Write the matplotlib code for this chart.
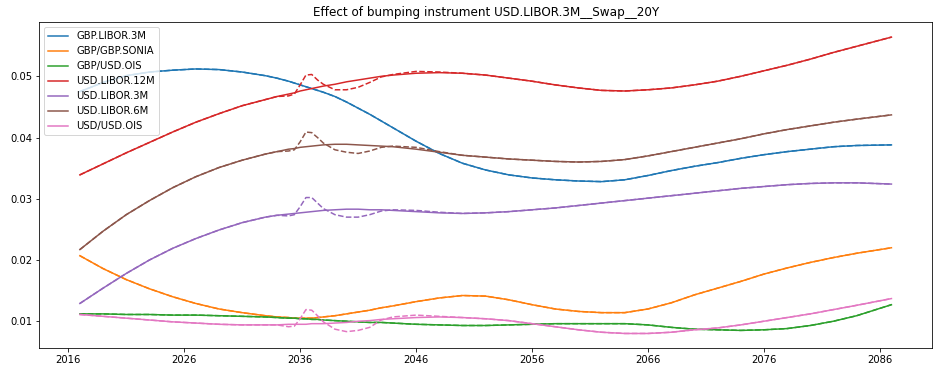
import matplotlib
matplotlib.use("Agg")
import matplotlib.pyplot as plt
import numpy as np

years = [2017, 2019, 2021, 2023, 2025, 2027, 2029, 2031, 2033, 2034, 2035, 2035.5,
         2036, 2036.5, 2037, 2037.5, 2038, 2039, 2040, 2041, 2042, 2043, 2044, 2046,
         2048, 2050, 2052, 2054, 2056, 2058, 2060, 2062, 2064, 2066, 2068, 2070, 2072,
         2074, 2076, 2078, 2080, 2082, 2084, 2087]

gbp_libor_3m = [0.0475, 0.0490, 0.0501, 0.0507, 0.0510, 0.0512, 0.0511, 0.0507, 0.0501, 0.0497,
                0.0492, 0.0489, 0.0486, 0.0483, 0.0480, 0.0477, 0.0474, 0.0467, 0.0458, 0.0448,
                0.0438, 0.0427, 0.0416, 0.0394, 0.0374, 0.0358, 0.0347, 0.0339, 0.0334, 0.0331,
                0.0329, 0.0328, 0.0331, 0.0338, 0.0346, 0.0353, 0.0359, 0.0366, 0.0372, 0.0377,
                0.0381, 0.0385, 0.0387, 0.0388]
gbp_sonia = [0.0207, 0.0186, 0.0168, 0.0153, 0.0140, 0.0129, 0.0120, 0.0114, 0.0109, 0.0107,
             0.0106, 0.0105, 0.0105, 0.0105, 0.0105, 0.0106, 0.0107, 0.0109, 0.0112, 0.0115,
             0.0118, 0.0122, 0.0125, 0.0132, 0.0138, 0.0142, 0.0141, 0.0135, 0.0127, 0.0120,
             0.0116, 0.0114, 0.0114, 0.0120, 0.0130, 0.0143, 0.0154, 0.0165, 0.0177, 0.0187,
             0.0196, 0.0204, 0.0211, 0.0220]
gbp_usd_ois = [0.0112, 0.0112, 0.0111, 0.0111, 0.0110, 0.0110, 0.0109, 0.0108, 0.0107, 0.0106,
               0.0105, 0.0105, 0.0104, 0.0104, 0.0103, 0.0103, 0.0102, 0.0101, 0.0100, 0.0099,
               0.0098, 0.0098, 0.0097, 0.0095, 0.0094, 0.0093, 0.0093, 0.0094, 0.0095, 0.0096,
               0.0096, 0.0096, 0.0096, 0.0094, 0.0090, 0.0087, 0.0086, 0.0085, 0.0086, 0.0088,
               0.0093, 0.0100, 0.0109, 0.0127]
usd_libor_12m = [0.0339, 0.0357, 0.0375, 0.0392, 0.0409, 0.0425, 0.0439, 0.0452, 0.0462, 0.0467,
                 0.0471, 0.0473, 0.0476, 0.0478, 0.0480, 0.0482, 0.0484, 0.0487, 0.0491, 0.0494,
                 0.0497, 0.0500, 0.0502, 0.0505, 0.0506, 0.0505, 0.0502, 0.0497, 0.0492, 0.0486,
                 0.0481, 0.0477, 0.0476, 0.0478, 0.0481, 0.0486, 0.0492, 0.0500, 0.0509, 0.0518,
                 0.0528, 0.0539, 0.0549, 0.0564]
usd_libor_3m = [0.0129, 0.0154, 0.0178, 0.0200, 0.0219, 0.0235, 0.0249, 0.0261, 0.0270, 0.0273,
                0.0275, 0.0276, 0.0277, 0.0278, 0.0279, 0.0280, 0.0281, 0.0282, 0.0283, 0.0283,
                0.0282, 0.0282, 0.0281, 0.0279, 0.0277, 0.0276, 0.0277, 0.0279, 0.0282, 0.0285,
                0.0289, 0.0293, 0.0297, 0.0301, 0.0305, 0.0309, 0.0313, 0.0317, 0.0320, 0.0323,
                0.0325, 0.0326, 0.0326, 0.0324]
usd_libor_6m = [0.0217, 0.0247, 0.0274, 0.0297, 0.0318, 0.0336, 0.0351, 0.0363, 0.0373, 0.0377,
                0.0381, 0.0382, 0.0384, 0.0385, 0.0386, 0.0387, 0.0388, 0.0389, 0.0389, 0.0388,
                0.0387, 0.0386, 0.0385, 0.0381, 0.0376, 0.0371, 0.0368, 0.0365, 0.0363, 0.0361,
                0.0360, 0.0361, 0.0364, 0.0370, 0.0377, 0.0384, 0.0391, 0.0398, 0.0406, 0.0413,
                0.0419, 0.0425, 0.0430, 0.0437]
usd_ois = [0.0111, 0.0108, 0.0105, 0.0102, 0.0099, 0.0097, 0.0095, 0.0094, 0.0094, 0.0094,
           0.0095, 0.0095, 0.0095, 0.0095, 0.0096, 0.0096, 0.0096, 0.0097, 0.0098, 0.0100,
           0.0101, 0.0103, 0.0104, 0.0106, 0.0107, 0.0106, 0.0104, 0.0101, 0.0096, 0.0091,
           0.0086, 0.0082, 0.0080, 0.0080, 0.0082, 0.0086, 0.0089, 0.0094, 0.0100, 0.0106,
           0.0112, 0.0119, 0.0126, 0.0137]

# Bumped curves inside the bump window (elsewhere identical to the base curves)
bump_years = [2034, 2035, 2035.5, 2036, 2036.5, 2037, 2037.5, 2038, 2039, 2040,
              2041, 2042, 2043, 2044, 2046, 2048]
bumped_usd_libor_12m = [0.0467, 0.0468, 0.0471, 0.0486, 0.0502, 0.0503, 0.0494, 0.0487, 0.0478,
                        0.0478, 0.0482, 0.0490, 0.0499, 0.0503, 0.0508, 0.0507]
bumped_usd_libor_3m = [0.0273, 0.0272, 0.0274, 0.0287, 0.0302, 0.0302, 0.0293, 0.0284, 0.0274,
                       0.0270, 0.0270, 0.0274, 0.0280, 0.0282, 0.0281, 0.0278]
bumped_usd_libor_6m = [0.0377, 0.0378, 0.0380, 0.0393, 0.0409, 0.0408, 0.0400, 0.0391, 0.0380,
                       0.0376, 0.0374, 0.0378, 0.0384, 0.0386, 0.0384, 0.0377]
bumped_usd_ois = [0.0094, 0.0091, 0.0092, 0.0104, 0.0119, 0.0118, 0.0109, 0.0099, 0.0087,
                  0.0083, 0.0085, 0.0090, 0.0102, 0.0107, 0.0110, 0.0108]

names = ["GBP.LIBOR.3M", "GBP/GBP.SONIA", "GBP/USD.OIS", "USD.LIBOR.12M",
         "USD.LIBOR.3M", "USD.LIBOR.6M", "USD/USD.OIS"]
base = [gbp_libor_3m, gbp_sonia, gbp_usd_ois, usd_libor_12m, usd_libor_3m, usd_libor_6m, usd_ois]
bumped_window = [None, None, None, bumped_usd_libor_12m, bumped_usd_libor_3m,
                 bumped_usd_libor_6m, bumped_usd_ois]

xticks = [2016, 2026, 2036, 2046, 2056, 2066, 2076, 2086]

title = "Effect of bumping instrument USD.LIBOR.3M__Swap__20Y"

DPI = 72
fig = plt.figure(figsize=(942 / DPI, 378 / DPI), dpi=DPI)
fig.patch.set_facecolor("white")
ax = fig.add_axes([0.0417, 0.0786, 0.9477, 0.8624])

colors = plt.rcParams["axes.prop_cycle"].by_key()["color"]
yrs = np.array(years, dtype=float)
for i, (name, vals) in enumerate(zip(names, base)):
    c = colors[i]
    ax.plot(yrs, vals, color=c, lw=1.5, label=name)
    bvals = np.array(vals, dtype=float)
    if bumped_window[i] is not None:
        for by, bv in zip(bump_years, bumped_window[i]):
            bvals[years.index(by)] = bv
    ax.plot(yrs, bvals, color=c, lw=1.5, ls="--")

ax.set_xticks(xticks)
ax.set_xticklabels([str(t) for t in xticks])
ax.set_title(title, fontsize=12)
ax.legend(loc="upper left", fontsize=10)
ax.tick_params(labelsize=10)

fig.savefig("out.png", dpi=DPI, facecolor="white")
